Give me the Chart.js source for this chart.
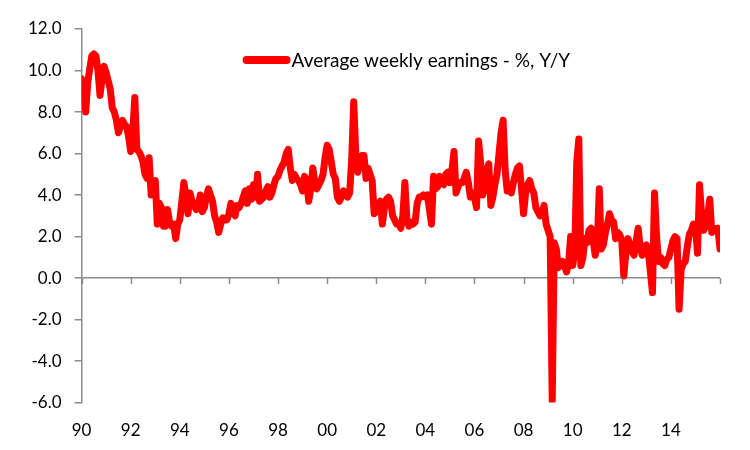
<!DOCTYPE html>
<html>
<head>
<meta charset="utf-8">
<script src="https://cdn.jsdelivr.net/npm/chart.js@4"></script>
<style>
  html, body { margin: 0; padding: 0; background: #fff; }
  #wrap { width: 750px; height: 450px; }
</style>
</head>
<body>
<div id="wrap"><canvas id="earningsChart"></canvas></div>
<script>
// Monthly values, Jan 1990 onwards (% Y/Y)
const earnings1990s = [
  9.6, 9.2, 8.0, 9.4, 10.1, 10.7, 10.8, 10.7, 10.0, 8.8, 9.6, 10.2,
  9.9, 9.5, 9.1, 8.2, 8.0, 7.6, 7.0, 7.3, 7.6, 7.4, 7.3, 6.8,
  6.1, 7.0, 8.7, 6.2, 6.1, 5.9, 5.6, 5.0, 4.8, 5.8, 4.0, 4.3,
  4.7, 2.6, 3.6, 3.4, 2.5, 2.5, 3.3, 2.7, 2.5, 2.6, 1.9, 2.6,
  2.8, 3.7, 4.6, 3.9, 3.1, 4.1, 3.7, 3.5, 3.3, 3.5, 4.0, 3.2,
  3.4, 3.9, 4.3, 4.0, 3.7, 3.0, 2.7, 2.2, 2.6, 2.9, 2.8, 2.8,
  3.1, 3.6, 3.2, 3.0, 3.5, 3.4, 3.6, 3.9, 4.2, 3.6, 4.3, 3.8,
  4.5, 3.9, 5.0, 3.7, 3.8, 3.9, 4.2, 4.4, 3.9, 4.1, 4.5, 4.8,
  4.9, 5.2, 5.4, 5.6, 6.0, 6.2, 5.3, 4.7, 5.0, 4.8, 4.7, 4.5,
  4.2, 4.9, 4.6, 3.7, 4.3, 5.3, 4.6, 4.3, 4.5, 4.7, 5.0, 5.8
];
const earnings2000s = [
  6.4, 6.2, 5.6, 5.0, 4.8, 3.9, 3.7, 3.9, 4.2, 4.1, 3.9, 4.1,
  5.7, 8.5, 6.0, 5.1, 5.8, 5.9, 5.9, 4.8, 5.3, 5.0, 4.7, 3.1,
  3.2, 3.6, 3.7, 2.6, 3.4, 3.8, 3.9, 3.7, 3.0, 2.8, 2.6, 2.6,
  2.4, 3.0, 4.6, 2.8, 2.5, 2.7, 2.6, 2.7, 3.6, 3.9, 3.9, 4.0,
  3.9, 4.0, 3.3, 2.6, 4.9, 4.3, 4.4, 4.9, 4.6, 4.5, 5.0, 5.1,
  4.6, 5.2, 6.1, 4.1, 4.4, 4.6, 4.6, 4.8, 5.1, 4.6, 3.9, 4.1,
  3.9, 3.4, 6.6, 5.6, 4.0, 4.4, 5.2, 5.5, 3.5, 3.9, 4.5, 5.0,
  6.0, 7.0, 7.6, 5.2, 4.2, 4.3, 4.1, 4.6, 5.0, 5.3, 5.4, 4.3,
  3.1, 4.1, 4.5, 4.7, 4.3, 4.1, 3.4, 3.2, 3.0, 3.1, 3.5, 2.6,
  2.3, 2.0, -5.9, 1.7, 1.4, 0.5, 0.7, 0.8, 0.6, 0.3, 0.7, 2.0
];
const earnings2010s = [
  0.6, 1.2, 5.6, 6.7, 0.6, 1.0, 1.9, 1.7, 2.3, 2.4, 1.8, 1.1,
  1.6, 4.3, 1.4, 1.6, 2.2, 2.6, 3.1, 2.8, 2.7, 1.9, 2.2, 2.1,
  1.8, 0.1, 1.2, 1.9, 1.6, 1.3, 1.1, 1.8, 2.4, 1.5, 1.1, 1.5,
  1.6, 1.2, 0.3, -0.7, 4.1, 2.0, 0.8, 1.0, 0.7, 0.6, 0.9, 1.0,
  1.4, 1.8, 2.0, 1.9, -1.5, 0.4, 0.7, 0.8, 1.5, 2.1, 2.3, 2.6,
  2.5, 1.2, 4.5, 3.1, 2.3, 2.5, 3.0, 3.8, 2.2, 2.4, 2.3, 2.4,
  1.4
];
const tickYears = ['90', '92', '94', '96', '98', '00', '02', '04', '06', '08', '10', '12', '14'];
const yTicks = [-6, -4, -2, 0, 2, 4, 6, 8, 10, 12];

const earnings = earnings1990s.concat(earnings2000s, earnings2010s);

const axisGrey = '#8c8c8c';
const labelFont = { family: 'Lato', size: 17 };

// small tick marks hanging below the zero line, like the Excel axis
const zeroAxisTicks = {
  id: 'zeroAxisTicks',
  afterDatasetsDraw(chart) {
    const x = chart.scales.x, y = chart.scales.y;
    const y0 = y.getPixelForValue(0);
    const ctx = chart.ctx;
    ctx.save();
    ctx.strokeStyle = axisGrey;
    ctx.lineWidth = 1.5;
    x.ticks.forEach(t => {
      const px = Math.round(x.getPixelForValue(t.value)) + 0.5;
      ctx.beginPath();
      ctx.moveTo(px, y0);
      ctx.lineTo(px, y0 + 6);
      ctx.stroke();
    });
    ctx.restore();
  }
};

// legend entry floating inside the plot, top middle
const insideLegend = {
  id: 'insideLegend',
  afterDraw(chart) {
    const ds = chart.data.datasets[0];
    const area = chart.chartArea;
    const ctx = chart.ctx;
    const lx = area.left + 165, ly = area.top + 31;
    ctx.save();
    ctx.strokeStyle = ds.borderColor;
    ctx.lineWidth = 8;
    ctx.lineCap = 'round';
    ctx.beginPath();
    ctx.moveTo(lx, ly);
    ctx.lineTo(lx + 40, ly);
    ctx.stroke();
    ctx.fillStyle = '#000';
    ctx.font = '19px Lato';
    ctx.textBaseline = 'middle';
    ctx.fillText(ds.label, lx + 45, ly + 1);
    ctx.restore();
  }
};

const ctx = document.getElementById('earningsChart');
new Chart(ctx, {
  type: 'line',
  data: {
    datasets: [{
      label: 'Average weekly earnings - %, Y/Y',
      data: earnings.map((v, i) => ({ x: i, y: v })),
      borderColor: '#ff0000',
      backgroundColor: '#ff0000',
      borderWidth: 7,
      borderJoinStyle: 'round',
      borderCapStyle: 'round',
      pointRadius: 0,
      tension: 0
    }]
  },
  options: {
    responsive: true,
    maintainAspectRatio: false,
    animation: false,
    layout: { padding: { top: 29, right: 30, left: 15, bottom: -9 } },
    plugins: {
      legend: { display: false },
      tooltip: { enabled: false }
    },
    scales: {
      x: {
        type: 'linear',
        min: 0,
        max: earnings.length - 1,
        grid: { display: false, drawTicks: false },
        border: { display: false },
        ticks: {
          stepSize: 24,
          padding: 18,
          maxRotation: 0,
          color: '#000',
          font: labelFont,
          callback: v => tickYears[v / 24] || ''
        }
      },
      y: {
        min: yTicks[0],
        max: yTicks[yTicks.length - 1],
        grid: {
          color: c => (c.tick && c.tick.value === 0) ? axisGrey : 'rgba(0,0,0,0)',
          lineWidth: 1.5,
          tickColor: axisGrey,
          tickLength: 7
        },
        border: { display: true, color: axisGrey, width: 1.5 },
        ticks: {
          stepSize: 2,
          padding: 13,
          color: '#000',
          font: labelFont,
          callback: v => v.toFixed(1)
        }
      }
    }
  },
  plugins: [zeroAxisTicks, insideLegend]
});
</script>
</body>
</html>
